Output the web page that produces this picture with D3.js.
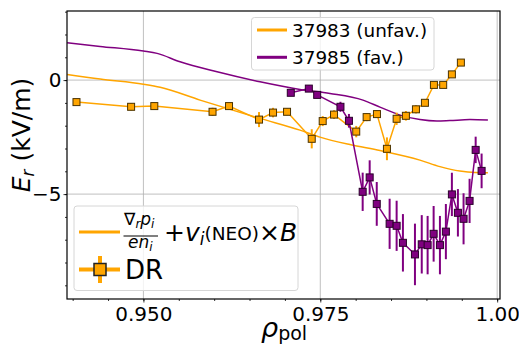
<!DOCTYPE html>
<html>
<head>
<meta charset="utf-8">
<script src="https://cdn.jsdelivr.net/npm/d3@7"></script>
<style>
  body { margin: 0; background: #fff; }
  svg { display: block; font-family: "DejaVu Sans", sans-serif; }
</style>
</head>
<body>
<svg id="chart" width="519" height="345"></svg>
<script>
// model curves: grad p / (e n) + v x B
const rhoModelUnfav = [0.93922, 0.94388, 0.950, 0.95236, 0.95801, 0.96648, 0.97213, 0.97496, 0.97919, 0.98343, 0.98908, 0.99191, 0.99473, 0.99685, 0.99869];
const erModelUnfav  = [0.25, 0.044, -0.184, -0.316, -0.877, -1.680, -2.193, -2.500, -2.829, -3.092, -3.509, -3.794, -3.991, -4.057, -4.066];
const rhoModelFav = [0.93922, 0.94388, 0.950, 0.95194, 0.95518, 0.96041, 0.96648, 0.97213, 0.97637, 0.98103, 0.98343, 0.98626, 0.98908, 0.99148, 0.99332, 0.99614, 0.99869];
const erModelFav  = [1.636, 1.478, 1.272, 1.171, 0.803, 0.364, -0.075, -0.408, -0.583, -0.877, -1.184, -1.535, -1.732, -1.798, -1.776, -1.732, -1.754];

// Doppler reflectometry
const rhoDRUnfav = [0.94054, 0.94826, 0.95154, 0.95977, 0.96210, 0.96634, 0.96832, 0.97030, 0.97379, 0.97534, 0.97694, 0.98008, 0.98155, 0.98301, 0.98442, 0.98579, 0.98710, 0.98852, 0.98979, 0.99106, 0.99237, 0.99360, 0.99487];
const erDRUnfav  = [-0.965, -1.171, -1.140, -1.390, -1.140, -1.732, -1.425, -1.390, -2.575, -1.798, -1.513, -2.259, -1.623, -1.491, -3.013, -1.697, -1.566, -1.281, -0.996, -0.211, -0.211, 0.250, 0.768];
const errDRUnfav = [0.13, 0.16, 0.14, 0.18, 0.15, 0.33, 0.21, 0.15, 0.42, 0.22, 0.19, 0.25, 0.18, 0.15, 0.5, 0.27, 0.21, 0.18, 0.1, 0.05, 0.05, 0.05, 0.05];

const rhoDRFav = [0.97083, 0.97338, 0.97456, 0.97785, 0.97905, 0.98099, 0.98198, 0.98298, 0.98480, 0.98579, 0.98668, 0.98838, 0.98934, 0.99017, 0.99102, 0.99191, 0.99275, 0.99360, 0.99445, 0.99525, 0.99610, 0.99696, 0.99780];
const erDRFav  = [-0.557, -0.373, -0.649, -1.171, -1.785, -4.899, -4.268, -5.430, -6.303, -6.390, -7.136, -7.645, -7.202, -7.237, -6.741, -7.237, -6.645, -5.013, -5.820, -6.083, -5.298, -3.061, -3.982];
const errDRFav = [0.1, 0.15, 0.1, 0.22, 0.3, 0.84, 0.75, 0.96, 1.1, 1.1, 1.26, 1.35, 1.28, 1.28, 1.22, 1.28, 1.21, 0.95, 1.04, 1.12, 0.97, 0.58, 0.76];

const xTicks = [0.950, 0.975, 1.000];
const xTickLabels = ["0.950", "0.975", "1.00"];
const yTicks = [0, -5];
const seriesNames = ["37983 (unfav.)", "37985 (fav.)"];

const ORANGE = "#ffa500";
const PURPLE = "#800080";

const width = 519, height = 345;
const margin = {top: 11, right: 19, bottom: 46, left: 67};

const svg = d3.select("#chart");

const x = d3.scaleLinear().domain([0.9392, 1.0004]).range([margin.left, width - margin.right]);
const y = d3.scaleLinear().domain([-9.6, 3.03]).range([height - margin.bottom, margin.top]);

// grid
svg.append("g").selectAll("line").data(xTicks).join("line")
    .attr("x1", d => x(d)).attr("x2", d => x(d))
    .attr("y1", margin.top).attr("y2", height - margin.bottom)
    .attr("stroke", "#b0b0b0").attr("stroke-width", 0.8);
svg.append("g").selectAll("line").data(yTicks).join("line")
    .attr("x1", margin.left).attr("x2", width - margin.right)
    .attr("y1", d => y(d)).attr("y2", d => y(d))
    .attr("stroke", "#b0b0b0").attr("stroke-width", 0.8);

// model curves
const line = d3.line().curve(d3.curveMonotoneX);
function modelLine(rho, er, color) {
    svg.append("path")
        .attr("d", line(rho.map((r, i) => [x(r), y(er[i])])))
        .attr("fill", "none").attr("stroke", color).attr("stroke-width", 1.5);
}
modelLine(rhoModelUnfav, erModelUnfav, ORANGE);
modelLine(rhoModelFav, erModelFav, PURPLE);

// DR points with error bars
function drSeries(rho, er, err, color, edge) {
    const g = svg.append("g");
    g.append("path")
        .attr("d", d3.line()(rho.map((r, i) => [x(r), y(er[i])])))
        .attr("fill", "none").attr("stroke", color).attr("stroke-width", 1.5);
    g.selectAll("line.err").data(rho).join("line")
        .attr("class", "err")
        .attr("x1", d => x(d)).attr("x2", d => x(d))
        .attr("y1", (d, i) => y(er[i] - err[i])).attr("y2", (d, i) => y(er[i] + err[i]))
        .attr("stroke", color).attr("stroke-width", 2);
    g.selectAll("rect").data(rho).join("rect")
        .attr("x", d => x(d) - 3.5).attr("y", (d, i) => y(er[i]) - 3.5)
        .attr("width", 7).attr("height", 7)
        .attr("fill", color).attr("stroke", edge).attr("stroke-width", 1);
}
drSeries(rhoDRUnfav, erDRUnfav, errDRUnfav, ORANGE, "#4a3200");
drSeries(rhoDRFav, erDRFav, errDRFav, PURPLE, "#2a002a");

// axes
const xAxis = svg.append("g")
    .attr("transform", `translate(0,${height - margin.bottom})`)
    .call(d3.axisBottom(x).tickValues(xTicks).tickFormat((d, i) => xTickLabels[i]).tickSize(3.5).tickPadding(4));
svg.append("g")
    .attr("transform", `translate(0,${height - margin.bottom})`)
    .call(d3.axisBottom(x).tickValues(d3.range(0.940, 1.0001, 0.005)).tickFormat("").tickSize(2))
    .call(g => g.select(".domain").remove());
const yAxis = svg.append("g")
    .attr("transform", `translate(${margin.left},0)`)
    .call(d3.axisLeft(y).tickValues(yTicks).tickFormat(d3.format("d")).tickSize(3.5).tickPadding(2));
svg.append("g")
    .attr("transform", `translate(${margin.left},0)`)
    .call(d3.axisLeft(y).tickValues(d3.range(-9, 4, 1)).tickFormat("").tickSize(2))
    .call(g => g.select(".domain").remove());
[xAxis, yAxis].forEach(a => {
    a.select(".domain").remove();
    a.selectAll("text").attr("font-size", 20).attr("font-family", "DejaVu Sans").attr("fill", "#000");
});
svg.selectAll(".tick line").attr("stroke", "#000").attr("stroke-width", 0.8);

// frame
svg.append("rect")
    .attr("x", margin.left).attr("y", margin.top)
    .attr("width", width - margin.left - margin.right)
    .attr("height", height - margin.top - margin.bottom)
    .attr("fill", "none").attr("stroke", "#000").attr("stroke-width", 1.2);

// axis labels
const yl = svg.append("text")
    .attr("transform", "translate(30,135) rotate(-90)")
    .attr("text-anchor", "middle").attr("font-size", 25);
yl.append("tspan").attr("font-style", "italic").text("E");
yl.append("tspan").attr("font-style", "italic").attr("font-size", 17).attr("dy", 4).text("r");
yl.append("tspan").attr("dy", -4).text(" (kV/m)");

const xl = svg.append("text").attr("x", 261).attr("y", 337).attr("font-size", 27);
xl.append("tspan").attr("font-style", "italic").text("ρ");
xl.append("tspan").attr("font-size", 19).attr("dy", 3).text("pol");

// legend: shots
const leg1 = svg.append("g");
leg1.append("rect")
    .attr("x", 251.5).attr("y", 17.5).attr("width", 182.5).attr("height", 52.5)
    .attr("rx", 3).attr("fill", "#fff").attr("fill-opacity", 0.8)
    .attr("stroke", "#d6d6d6").attr("stroke-width", 1);
seriesNames.forEach((name, i) => {
    const cy = 30 + i * 27.3;
    leg1.append("line").attr("x1", 257).attr("x2", 287).attr("y1", cy).attr("y2", cy)
        .attr("stroke", i === 0 ? ORANGE : PURPLE).attr("stroke-width", 3);
    leg1.append("text").attr("x", 292).attr("y", cy + 6.5).attr("font-size", 18.4).text(name);
});

// legend: method
const leg2 = svg.append("g");
leg2.append("rect")
    .attr("x", 74).attr("y", 206).attr("width", 224).attr("height", 84.5)
    .attr("rx", 3).attr("fill", "#fff").attr("fill-opacity", 0.8)
    .attr("stroke", "#d6d6d6").attr("stroke-width", 1);
leg2.append("line").attr("x1", 79).attr("x2", 120).attr("y1", 232).attr("y2", 232)
    .attr("stroke", ORANGE).attr("stroke-width", 3);
// fraction
const num = leg2.append("text").attr("x", 124).attr("y", 225).attr("font-size", 17);
num.append("tspan").text("∇");
num.append("tspan").attr("font-style", "italic").attr("font-size", 12).attr("dy", 3).text("r");
num.append("tspan").attr("font-style", "italic").attr("dy", -3).text("p");
num.append("tspan").attr("font-style", "italic").attr("font-size", 12).attr("dy", 3).text("i");
leg2.append("line").attr("x1", 123.5).attr("x2", 158).attr("y1", 236).attr("y2", 236)
    .attr("stroke", "#000").attr("stroke-width", 1);
const den = leg2.append("text").attr("x", 128).attr("y", 247.5).attr("font-size", 17);
den.append("tspan").attr("font-style", "italic").text("en");
den.append("tspan").attr("font-style", "italic").attr("font-size", 12).attr("dy", 3).text("i");
const rest = leg2.append("text").attr("x", 164).attr("y", 241).attr("font-size", 25);
rest.append("tspan").text("+");
rest.append("tspan").attr("font-style", "italic").text("v");
rest.append("tspan").attr("font-style", "italic").attr("font-size", 17).attr("dy", 4).text("i");
rest.append("tspan").attr("font-size", 18.5).attr("dy", -5).text("(NEO)");
rest.append("tspan").attr("dy", 1).text("×");
rest.append("tspan").attr("font-style", "italic").text("B");
// DR handle
leg2.append("line").attr("x1", 79).attr("x2", 120).attr("y1", 269.5).attr("y2", 269.5)
    .attr("stroke", ORANGE).attr("stroke-width", 4);
leg2.append("line").attr("x1", 100).attr("x2", 100).attr("y1", 256).attr("y2", 283)
    .attr("stroke", ORANGE).attr("stroke-width", 4);
leg2.append("rect").attr("x", 94).attr("y", 263.5).attr("width", 12).attr("height", 12)
    .attr("fill", ORANGE).attr("stroke", "#222").attr("stroke-width", 1.5);
leg2.append("text").attr("x", 125).attr("y", 279).attr("font-size", 26).text("DR");
</script>
</body>
</html>
